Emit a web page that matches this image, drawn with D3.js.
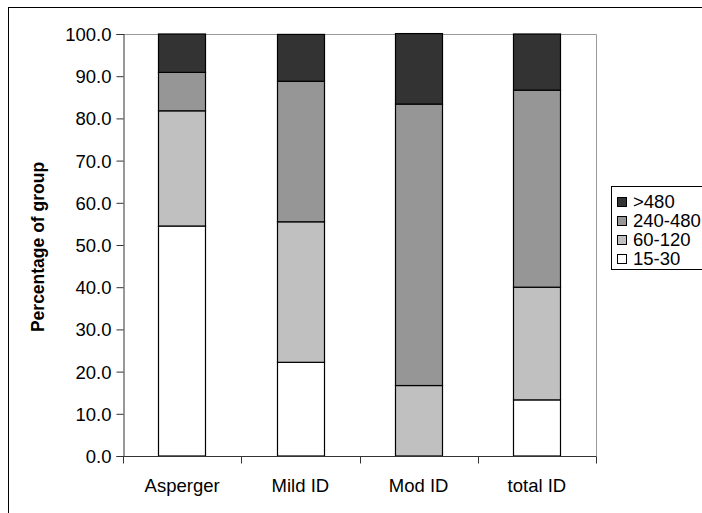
<!DOCTYPE html>
<html>
<head>
<meta charset="utf-8">
<script src="https://cdn.jsdelivr.net/npm/d3@7"></script>
<style>
  body { margin: 0; background: #fff; }
  text { font-family: "Liberation Sans", Arial, sans-serif; fill: #000; }
</style>
</head>
<body>
<svg id="chart"></svg>
<script>
// data
var groups = ["Asperger", "Mild ID", "Mod ID", "total ID"];
var keys = ["15-30", "60-120", "240-480", ">480"];
var v1530 = [54.5, 22.2, 0.0, 13.3];
var v60120 = [27.3, 33.3, 16.7, 26.7];
var v240480 = [9.1, 33.3, 66.7, 46.7];
var v480 = [9.1, 11.1, 16.7, 13.3];
var yTicks = [0, 10, 20, 30, 40, 50, 60, 70, 80, 90, 100];

var colours = {"15-30": "#ffffff", "60-120": "#c0c0c0", "240-480": "#969696", ">480": "#333333"};

var w = 702, h = 513;
var fs = 18.5;
// plot area (window.top is read-only, so use other names)
var plotL = 123, plotR = 596, plotT = 34, plotB = 456;

var svg = d3.select("#chart")
    .attr("width", w)
    .attr("height", h);

// outer chart border (runs off the right and bottom)
svg.append("rect")
    .attr("x", 8.5).attr("y", 7.5)
    .attr("width", 720).attr("height", 530)
    .attr("fill", "none")
    .attr("stroke", "#000");

var rows = groups.map(function(g, i) {
  return {group: g, "15-30": v1530[i], "60-120": v60120[i], "240-480": v240480[i], ">480": v480[i]};
});
var stacked = d3.stack().keys(keys)(rows);

var x = d3.scaleBand().domain(groups).range([plotL, plotR]).paddingInner(0.6).paddingOuter(0.3);
var xAxisScale = d3.scaleBand().domain(groups).range([plotL, plotR]);
var y = d3.scaleLinear().domain([0, 100]).range([plotB, plotT]);

// plot area frame: grey top and right
svg.append("path")
    .attr("d", "M" + plotL + "," + (plotT + 0.5) + "H" + (plotR + 0.5) + "V" + plotB)
    .attr("fill", "none")
    .attr("stroke", "#999");

svg.append("g").selectAll("g")
  .data(stacked)
  .join("g")
    .attr("fill", function(d) { return colours[d.key]; })
  .selectAll("rect")
  .data(function(d) { return d; })
  .join("rect")
    .attr("x", function(d) { return Math.round(x(d.data.group)) + 0.5; })
    .attr("y", function(d) { return y(d[1]); })
    .attr("width", Math.round(x.bandwidth()))
    .attr("height", function(d) { return y(d[0]) - y(d[1]); })
    .attr("stroke", "#000")
    .attr("stroke-width", 1.2);

// y axis
var yAxis = d3.axisLeft(y).tickValues(yTicks).tickFormat(d3.format(".1f")).tickSize(7).tickPadding(5);
var gy = svg.append("g").attr("transform", "translate(" + (plotL + 0.5) + ",0)").call(yAxis);
gy.select(".domain").attr("stroke", "#333");
gy.selectAll(".tick line").attr("stroke", "#333");
gy.selectAll("text").attr("font-size", fs).attr("font-family", "Liberation Sans, Arial, sans-serif").attr("dy", "0.35em");

// x axis with ticks between groups
var xb = plotB + 0.5;
var gx = svg.append("g");
gx.append("line").attr("x1", plotL).attr("x2", plotR + 0.5).attr("y1", xb).attr("y2", xb).attr("stroke", "#333");
var edges = groups.map(function(g) { return xAxisScale(g); }).concat([plotR]);
gx.selectAll("line.t").data(edges).join("line")
    .attr("class", "t")
    .attr("x1", function(d) { return Math.round(d) + 0.5; })
    .attr("x2", function(d) { return Math.round(d) + 0.5; })
    .attr("y1", xb).attr("y2", xb + 7)
    .attr("stroke", "#333");
gx.selectAll("text").data(groups).join("text")
    .attr("x", function(g) { return xAxisScale(g) + xAxisScale.bandwidth() / 2; })
    .attr("y", 492)
    .attr("text-anchor", "middle")
    .attr("font-size", fs)
    .text(function(g) { return g; });

// y title
svg.append("text")
    .attr("transform", "translate(44," + 247 + ") rotate(-90)")
    .attr("text-anchor", "middle")
    .attr("font-size", 17.5)
    .attr("font-weight", "bold")
    .text("Percentage of group");

// legend
var lg = svg.append("g").attr("transform", "translate(611,186)");
lg.append("rect")
    .attr("x", 0.5).attr("y", 0.5)
    .attr("width", 120).attr("height", 83)
    .attr("fill", "#fff")
    .attr("stroke", "#000");
var legendKeys = keys.slice().reverse();
var li = lg.selectAll("g.item").data(legendKeys).join("g")
    .attr("class", "item")
    .attr("transform", function(d, i) { return "translate(0," + (16 + i * 19) + ")"; });
li.append("rect")
    .attr("x", 6.5).attr("y", -4.5)
    .attr("width", 9).attr("height", 9)
    .attr("fill", function(d) { return colours[d]; })
    .attr("stroke", "#000");
li.append("text")
    .attr("x", 22).attr("y", 0)
    .attr("dy", "0.35em")
    .attr("font-size", fs)
    .text(function(d) { return d; });
</script>
</body>
</html>
